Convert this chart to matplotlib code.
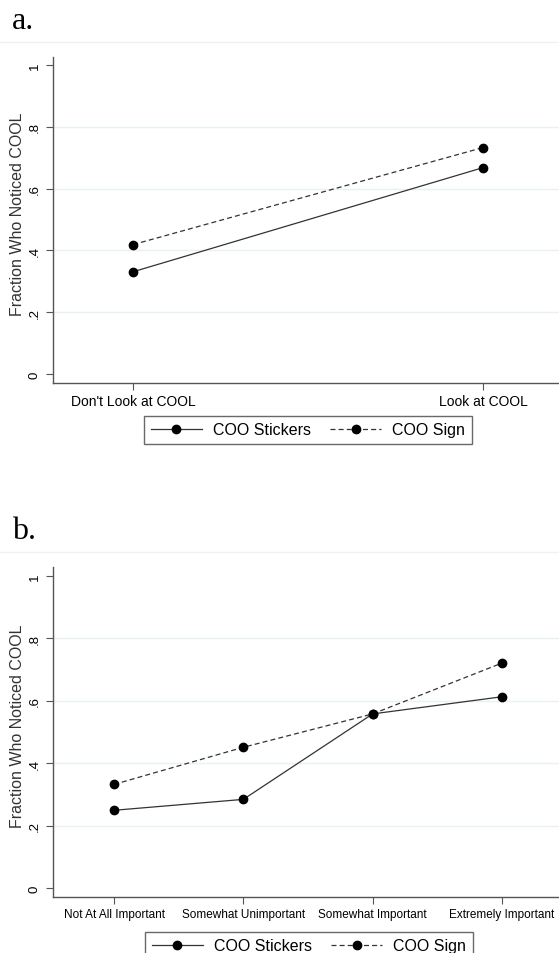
import matplotlib
matplotlib.use("Agg")
import matplotlib.pyplot as plt
from matplotlib.lines import Line2D

plt.rcParams["font.family"] = ["Liberation Sans", "DejaVu Sans"]

# ---------------------------------------------------------------------------
# data
# ---------------------------------------------------------------------------
cats_a = ["Don't Look at COOL", "Look at COOL"]
stickers_a = [0.331, 0.668]
sign_a = [0.419, 0.733]

cats_b = ["Not At All Important", "Somewhat Unimportant",
          "Somewhat Important", "Extremely Important"]
stickers_b = [0.249, 0.284, 0.558, 0.613]
sign_b = [0.332, 0.451, 0.558, 0.721]

yticks = [0, 0.2, 0.4, 0.6, 0.8, 1]
ytick_labels = ["0", ".2", ".4", ".6", ".8", "1"]
ylabel = "Fraction Who Noticed COOL"
series_names = ["COO Stickers", "COO Sign"]

W, H = 559, 954
fig = plt.figure(figsize=(W / 100, H / 100), dpi=100)


def px_axes(left, top, right, bottom):
    return fig.add_axes([left / W, 1 - bottom / H, (right - left) / W, (bottom - top) / H])


def style_panel(ax, xs, cats, xlim, ylim, xfs):
    ax.set_xlim(*xlim)
    ax.set_ylim(*ylim)
    for s in ["top", "right"]:
        ax.spines[s].set_visible(False)
    for s in ["left", "bottom"]:
        ax.spines[s].set_color("#555555")
        ax.spines[s].set_linewidth(1.0)
    for g in yticks[1:-1]:
        ax.axhline(g, color="#e8f1f4", lw=1.0, zorder=0)
    ax.set_yticks(yticks)
    ax.set_yticklabels(ytick_labels, rotation=90, va="center", fontsize=9.5)
    ax.set_xticks(xs)
    ax.set_xticklabels(cats, fontsize=xfs)
    ax.tick_params(axis="y", length=5, width=0.8, color="#555555", pad=4)
    ax.tick_params(axis="x", length=5, width=0.8, color="#555555", pad=3)
    ax.set_ylabel(ylabel, fontsize=11.5, color="#333333")
    ax.yaxis.set_label_coords(-0.056, 0.52)


def draw_series(ax, xs, stick, sign):
    l1, = ax.plot(xs, stick, "-", color="#333333", lw=0.9, marker="o",
                  ms=6, mfc="black", mec="black", label=series_names[0])
    l2, = ax.plot(xs, sign, "--", color="#333333", lw=0.9, marker="o",
                  ms=6, mfc="black", mec="black", label=series_names[1],
                  dashes=(4, 2.5))
    return l1, l2


def add_legend(handles, cx, top):
    leg = fig.legend(handles, series_names, loc="upper center",
                     bbox_to_anchor=(cx / W, 1 - top / H), ncol=2,
                     frameon=True, fancybox=False, fontsize=11.5,
                     handlelength=3.2, columnspacing=1.2, handletextpad=0.7,
                     borderpad=0.4, borderaxespad=0)
    fr = leg.get_frame()
    fr.set_edgecolor("#444444")
    fr.set_linewidth(1.0)
    return leg


# ---- panel a -------------------------------------------------------------
xs_a = list(range(len(cats_a)))
ax_a = px_axes(53, 58, 559, 384)
style_panel(ax_a, xs_a, cats_a, (-0.229, 1.217), (-0.029, 1.026), 10)
h = draw_series(ax_a, xs_a, stickers_a, sign_a)
add_legend(h, 308, 417)

# ---- panel b -------------------------------------------------------------
xs_b = list(range(1, len(cats_b) + 1))
ax_b = px_axes(53, 568, 559, 898)
style_panel(ax_b, xs_b, cats_b, (0.528, 4.441), (-0.029, 1.029), 8.5)
h = draw_series(ax_b, xs_b, stickers_b, sign_b)
add_legend(h, 309, 933)

# panel letters and faint separators
fig.text(12 / W, 1 - 29 / H, "a.", family=["Liberation Serif", "DejaVu Serif"],
         fontsize=23, va="baseline", ha="left")
fig.text(12 / W, 1 - 539 / H, "b.", family=["Liberation Serif", "DejaVu Serif"],
         fontsize=23, va="baseline", ha="left")
for yy in (43, 553):
    fig.add_artist(Line2D([0, 1], [1 - yy / H, 1 - yy / H], color="#f1f1f1",
                          lw=1.0, transform=fig.transFigure))

fig.savefig("out.png", dpi=100)
